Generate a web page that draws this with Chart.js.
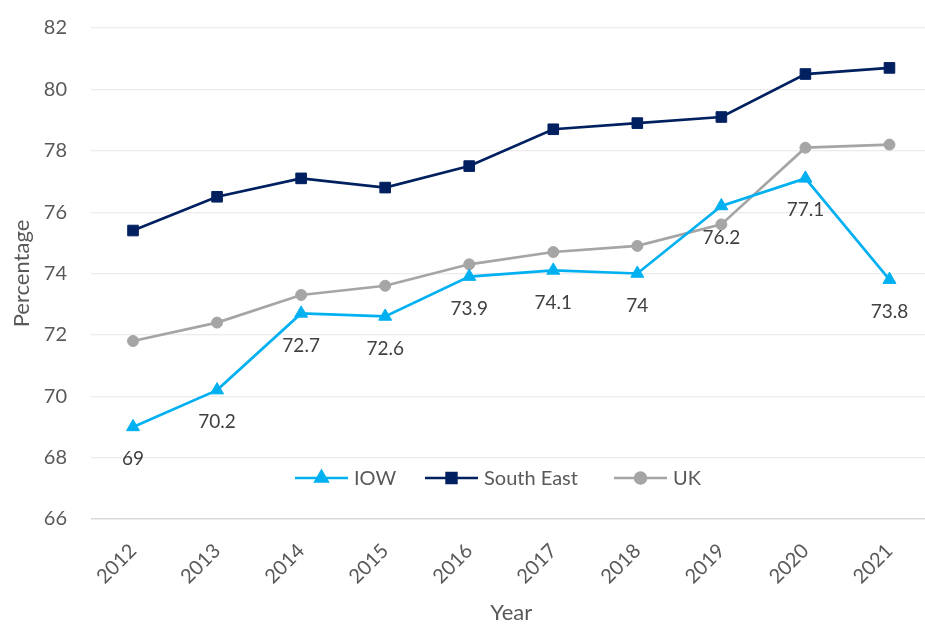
<!DOCTYPE html>
<html><head><meta charset="utf-8">
<script src="https://cdn.jsdelivr.net/npm/chart.js@4/dist/chart.umd.min.js"></script>
<style>
html,body{margin:0;padding:0;overflow:hidden;background:#fff;}
#wrap{width:940px;height:624px;position:relative;}
</style></head>
<body>
<div id="wrap"><canvas id="c"></canvas></div>
<script>
const years = ['2012','2013','2014','2015','2016','2017','2018','2019','2020','2021'];
const iow = [69, 70.2, 72.7, 72.6, 73.9, 74.1, 74, 76.2, 77.1, 73.8];
const southEast = [75.4, 76.5, 77.1, 76.8, 77.5, 78.7, 78.9, 79.1, 80.5, 80.7];
const uk = [71.8, 72.4, 73.3, 73.6, 74.3, 74.7, 74.9, 75.6, 78.1, 78.2];
const seriesNames = ['IOW', 'South East', 'UK'];
const colors = ['#00B0F0', '#002060', '#A5A5A5'];
const FONT = 'Lato, "Open Sans", sans-serif';

const labelPlugin = {
  id: 'iowLabels',
  afterDatasetsDraw(chart) {
    const ctx = chart.ctx;
    const meta = chart.getDatasetMeta(0);
    ctx.save();
    ctx.font = '19px ' + FONT;
    ctx.fillStyle = '#404040';
    ctx.textAlign = 'center';
    ctx.textBaseline = 'middle';
    meta.data.forEach((pt, i) => {
      ctx.fillText(String(chart.data.datasets[0].data[i]), pt.x, pt.y + 32);
    });
    ctx.restore();
  }
};

const legendPlugin = {
  id: 'innerLegend',
  afterDraw(chart) {
    const ctx = chart.ctx;
    const y = 478;
    const items = [
      {x: 295, style: 'triangle', r: 7},
      {x: 425, style: 'rect', r: 7},
      {x: 614, style: 'circle', r: 5.5}
    ];
    ctx.save();
    ctx.font = '20px ' + FONT;
    ctx.textBaseline = 'middle';
    ctx.textAlign = 'left';
    items.forEach((it, i) => {
      ctx.strokeStyle = colors[i];
      ctx.lineWidth = 2.5;
      ctx.beginPath();
      ctx.moveTo(it.x, y);
      ctx.lineTo(it.x + 53, y);
      ctx.stroke();
      ctx.fillStyle = colors[i];
      Chart.helpers.drawPoint(ctx, {pointStyle: it.style, radius: it.r, borderWidth: 1}, it.x + 26.5, y);
      ctx.fillStyle = '#595959';
      ctx.fillText(seriesNames[i], it.x + 59, y + 1);
    });
    ctx.restore();
  }
};

const mk = (i, data, style, r) => ({
  label: seriesNames[i], data, borderColor: colors[i], backgroundColor: colors[i],
  pointBackgroundColor: colors[i], pointBorderColor: colors[i], pointBorderWidth: 1,
  borderWidth: 2.7, pointStyle: style, pointRadius: r, pointHoverRadius: r, tension: 0, fill: false
});

new Chart(document.getElementById('c'), {
  type: 'line',
  data: {
    labels: years,
    datasets: [
      mk(0, iow, 'triangle', 7.5),
      mk(1, southEast, 'rect', 7.5),
      mk(2, uk, 'circle', 5.5)
    ]
  },
  options: {
    responsive: true, maintainAspectRatio: false, animation: false,
    layout: {padding: {top: 28, right: 0, bottom: 0, left: 0}},
    plugins: {legend: {display: false}, tooltip: {enabled: false}},
    scales: {
      x: {
        offset: true,
        grid: {display: false, drawTicks: false},
        border: {display: false},
        ticks: {color: '#595959', font: {size: 20, family: FONT}, maxRotation: 45, minRotation: 45, padding: 20, autoSkip: false},
        title: {display: true, text: 'Year', color: '#595959', font: {size: 22, family: FONT}, padding: {top: 0, bottom: -2}},
        afterFit(s) { s.height = 105; s.paddingLeft = 0; s.paddingRight = 0; }
      },
      y: {
        min: 66, max: 82,
        grid: {color: (c) => c.tick && c.tick.value === 66 ? '#d9d9d9' : '#ececec', lineWidth: (c) => c.tick && c.tick.value === 66 ? 1.5 : 1.2, drawTicks: false},
        border: {display: false},
        ticks: {stepSize: 2, color: '#595959', font: {size: 20, family: FONT}, padding: 24},
        title: {display: true, text: 'Percentage', color: '#595959', font: {size: 22, family: FONT}, padding: {top: 9, bottom: 0}},
        afterFit(s) { s.width = 91; s.paddingTop = 0; s.paddingBottom = 0; }
      }
    }
  },
  plugins: [labelPlugin, legendPlugin]
});
</script>
</body></html>
